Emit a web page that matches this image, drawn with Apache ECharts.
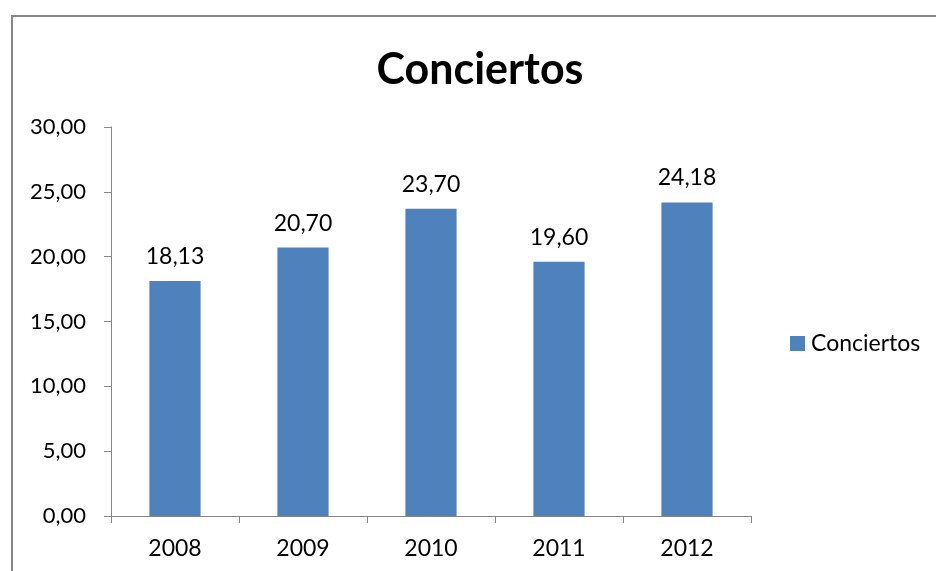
<!DOCTYPE html>
<html>
<head>
<meta charset="utf-8">
<script src="https://cdn.jsdelivr.net/npm/echarts@6/dist/echarts.min.js"></script>
<style>
html,body{margin:0;padding:0;background:#fff;}
#c{width:936px;height:571px;}
</style>
</head>
<body>
<div id="c"></div>
<script>
const categories = ['2008', '2009', '2010', '2011', '2012'];
const seriesName = 'Conciertos';
const values = [18.13, 20.70, 23.70, 19.60, 24.18];
const titleText = 'Conciertos';

const fmt = v => Number(v).toFixed(2).replace('.', ',');
const FONT = 'Lato, "Open Sans", sans-serif';

const chart = echarts.init(document.getElementById('c'));
chart.setOption({
  animation: false,
  backgroundColor: '#fff',
  graphic: [{
    type: 'rect',
    shape: { x: 12, y: 16, width: 940, height: 580 },
    style: { fill: 'none', stroke: '#868686', lineWidth: 2 },
    silent: true
  }],
  title: {
    text: titleText,
    left: 475, top: 44, textAlign: 'center',
    textStyle: { fontFamily: FONT, fontSize: 43, fontWeight: 'bold', color: '#000' }
  },
  legend: {
    data: [seriesName],
    left: 790, top: 332, padding: 0,
    itemWidth: 15, itemHeight: 15, itemGap: 6,
    icon: 'rect',
    textStyle: { fontFamily: FONT, fontSize: 23, color: '#000', padding: [0, 0, 0, 1] }
  },
  grid: { left: 111, right: 185, top: 127, bottom: 55 },
  xAxis: {
    type: 'category',
    data: categories,
    axisLine: { lineStyle: { color: '#868686', width: 1 } },
    axisTick: { show: true, length: 7, lineStyle: { color: '#868686' } },
    axisLabel: { fontFamily: FONT, fontSize: 23, color: '#000', margin: 21 }
  },
  yAxis: {
    type: 'value',
    min: 0, max: 30, interval: 5,
    splitLine: { show: false },
    axisLine: { show: true, lineStyle: { color: '#868686', width: 1 } },
    axisTick: { show: true, length: 7, lineStyle: { color: '#868686' } },
    axisLabel: { fontFamily: FONT, fontSize: 22, color: '#000', margin: 25, formatter: fmt }
  },
  series: [{
    name: seriesName,
    type: 'bar',
    data: values,
    barWidth: '40%',
    itemStyle: { color: '#4F81BD' },
    label: {
      show: true, position: 'top', distance: 13,
      fontFamily: FONT, fontSize: 23, color: '#000',
      formatter: p => fmt(p.value)
    }
  }]
});
</script>
</body>
</html>
